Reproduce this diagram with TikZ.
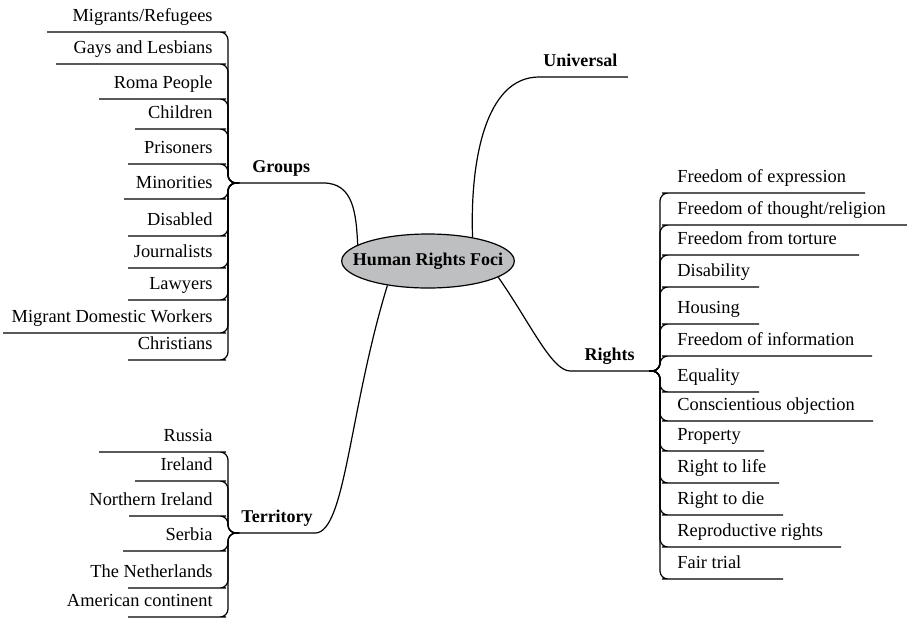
\documentclass[tikz,border=0pt]{standalone}
\usepackage{fontspec}
\setmainfont{Liberation Serif}
\usetikzlibrary{shapes.geometric}

\definecolor{rootgray}{RGB}{190,191,193}

\tikzset{
  link/.style={line width=0.6pt, rounded corners=4pt},
  branchlink/.style={line width=0.6pt},
  leafL/.style={anchor=south east, inner xsep=2.5pt, inner ysep=5pt, text depth=0pt},
  leafR/.style={anchor=south west, inner xsep=3.5pt, inner ysep=5pt, text depth=0pt},
  branch/.style={font=\fontsize{9}{11}\selectfont\bfseries, inner ysep=5pt, text depth=0pt},
  rootnode/.style={ellipse, draw, line width=0.6pt, fill=rootgray,
    font=\fontsize{9}{11}\selectfont\bfseries,
    minimum width=85pt, minimum height=27pt, inner xsep=-7pt, inner ysep=0pt}
}

\begin{document}
\begin{tikzpicture}[x=0.5pt, y=-0.5pt, font=\fontsize{9.2}{11}\selectfont]
  \useasboundingbox (0,0) rectangle (907,618);
  \node[rootnode] (hrf) at (428,261) {Human Rights Foci};

  % Groups
  \coordinate (gJ) at (239,183);
  \node[branch, anchor=south west, inner xsep=6.5pt] (grp) at (gJ) {Groups};
  \draw[branchlink] (hrf.167) to[out=93, in=0, looseness=1.1] (grp.south east) -- (gJ);
  \foreach \i/\y/\x/\t in {1/32/47/{Migrants/Refugees}, 2/64/56/{Gays and Lesbians},
      3/99/99/{Roma People}, 4/129/135/{Children}, 5/164/128/{Prisoners},
      6/199/124/{Minorities}, 7/236/128/{Disabled}, 8/268/128/{Journalists},
      9/300/128/{Lawyers}, 10/333/3/{Migrant Domestic Workers}, 11/360/128/{Christians}}{
    \node[leafL] (g\i) at (218,\y) {\t};
    \coordinate (ge\i) at (\x,\y);
    \draw[link] (gJ) -- ++(-11,0) |- (g\i.south east) -- (ge\i);
  }

  % Universal
  \node[branch, anchor=south west, inner xsep=2pt] (uni) at (539,77) {Universal};
  \draw[branchlink] (hrf.28) to[out=92, in=180, out looseness=1.1, in looseness=0.8] (uni.south west) -- (uni.south east) -- ++(6,0);

  % Rights
  \coordinate (rJ) at (649,371);
  \node[branch, anchor=south east, inner xsep=7pt] (rgt) at (rJ) {Rights};
  \draw[branchlink] (hrf.-13) to[out=-55, in=180, out looseness=1.2, in looseness=0.4] (rgt.south west) -- (rJ);
  \foreach \i/\y/\x/\t in {1/193/865/{Freedom of expression}, 2/225/907/{Freedom of thought/religion},
      3/255/859/{Freedom from torture}, 4/287/759/{Disability}, 5/324/759/{Housing},
      6/356/872/{Freedom of information}, 7/392/759/{Equality}, 8/421/873/{Conscientious objection},
      9/451/764/{Property}, 10/483/779/{Right to life}, 11/515/783/{Right to die},
      12/547/841/{Reproductive rights}, 13/579/783/{Fair trial}}{
    \node[leafR] (r\i) at (670,\y) {\t};
    \coordinate (re\i) at (\x,\y);
    \draw[link] (rJ) -- ++(11,0) |- (r\i.south west) -- (re\i);
  }

  % Territory
  \coordinate (tJ) at (239,533);
  \node[branch, anchor=south west, inner xsep=1pt] (ter) at (tJ) {Territory};
  \draw[branchlink] (hrf.211) to[out=-107, in=0, out looseness=1.3, in looseness=0.3] (ter.south east) -- (tJ);
  \foreach \i/\y/\x/\t in {1/452/99/{Russia}, 2/481/135/{Ireland}, 3/516/129/{Northern Ireland},
      4/551/123/{Serbia}, 5/588/128/{The Netherlands}, 6/617/128/{American continent}}{
    \node[leafL] (t\i) at (218,\y) {\t};
    \coordinate (te\i) at (\x,\y);
    \draw[link] (tJ) -- ++(-11,0) |- (t\i.south east) -- (te\i);
  }
\end{tikzpicture}
\end{document}
